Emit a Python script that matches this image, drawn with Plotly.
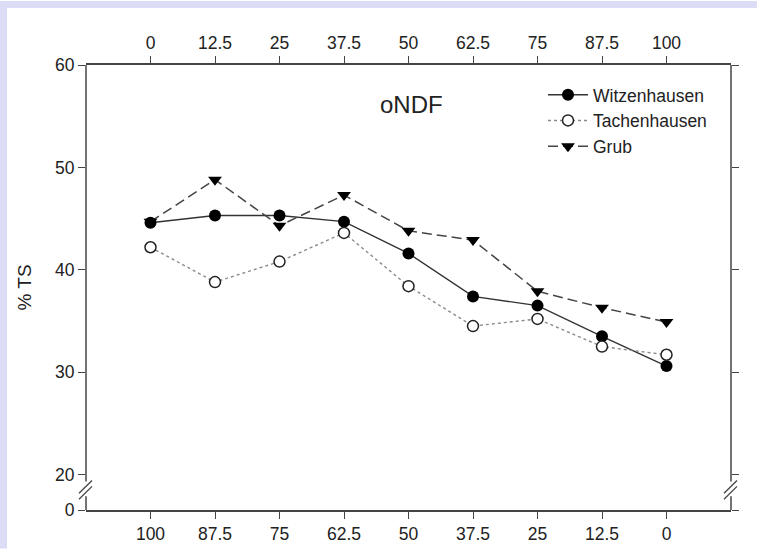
import plotly.graph_objects as go

# ---- data ----
x_top = [0, 12.5, 25, 37.5, 50, 62.5, 75, 87.5, 100]
top_labels = ["0", "12.5", "25", "37.5", "50", "62.5", "75", "87.5", "100"]
bottom_labels = ["100", "87.5", "75", "62.5", "50", "37.5", "25", "12.5", "0"]
witzenhausen = [44.6, 45.3, 45.3, 44.7, 41.6, 37.4, 36.5, 33.5, 30.6]
tachenhausen = [42.2, 38.8, 40.8, 43.6, 38.4, 34.5, 35.2, 32.5, 31.7]
grub = [44.7, 48.8, 44.3, 47.3, 43.8, 42.9, 37.9, 36.3, 34.9]
y_tick_labels = ["0", "20", "30", "40", "50", "60"]

# axis break: value 0 drawn 36px below 20 (10.4 px per unit)
Y_ZERO = 20 - 36 / 10.4
y_tick_vals = [Y_ZERO, 20, 30, 40, 50, 60]

W, H = 757, 556
L, R, T, B = 86, 731, 65, 517
pw, ph = R - L, B - T

def px_x(p):
    return (p - L) / pw

def px_yp(p):
    return (B - p) / ph

def px_y(p):
    return 20 - (p - 481) / 10.4

AX = "#444444"
FONT = "Liberation Sans, Arial, sans-serif"
FS = 17.5
LAV = "#dcdcf7"

fig = go.Figure()
fig.add_trace(go.Scatter(
    x=x_top, y=witzenhausen, name="Witzenhausen", mode="lines+markers",
    line=dict(color="#333333", width=1.4),
    marker=dict(symbol="circle", size=12, color="black")))
fig.add_trace(go.Scatter(
    x=x_top, y=tachenhausen, name="Tachenhausen", mode="lines+markers",
    line=dict(color="#8a8a8a", width=1.4, dash="dot"),
    marker=dict(symbol="circle", size=11, color="white", line=dict(color="#222222", width=1.5))))
fig.add_trace(go.Scatter(
    x=x_top, y=grub, name="Grub", mode="lines+markers",
    line=dict(color="#444444", width=1.5, dash="10px,5px"),
    marker=dict(symbol="triangle-down", size=12, color="black")))
# invisible trace to activate the top / right axes
fig.add_trace(go.Scatter(
    x=x_top, y=witzenhausen, xaxis="x2", yaxis="y2", mode="markers",
    marker=dict(opacity=0), showlegend=False, hoverinfo="skip"))

tickfont = dict(family=FONT, size=FS, color="#222222")
fig.update_layout(
    width=W, height=H,
    margin=dict(l=L, r=W - R, t=T, b=H - B, pad=0),
    paper_bgcolor="white",
    plot_bgcolor="rgba(0,0,0,0)",
    font=dict(family=FONT, size=FS, color="#222222"),
    xaxis=dict(range=[-12.5, 112.5], tickvals=x_top, ticktext=bottom_labels,
               ticks="outside", ticklen=7, tickwidth=1.3, tickcolor=AX,
               showline=True, linecolor=AX, linewidth=1.5, showgrid=False,
               zeroline=False, tickfont=tickfont, fixedrange=True),
    xaxis2=dict(range=[-12.5, 112.5], tickvals=x_top, ticktext=top_labels,
                overlaying="x", side="top", anchor="y",
                ticks="outside", ticklen=7, tickwidth=1.3, tickcolor=AX,
                showline=True, linecolor=AX, linewidth=1.5, showgrid=False,
                zeroline=False, tickfont=tickfont),
    yaxis=dict(range=[Y_ZERO, 60], tickvals=y_tick_vals, ticktext=y_tick_labels,
               ticks="outside", ticklen=7, tickwidth=1.3, tickcolor=AX,
               showline=False, showgrid=False, zeroline=False, tickfont=tickfont),
    yaxis2=dict(range=[Y_ZERO, 60], tickvals=y_tick_vals, overlaying="y", side="right",
                anchor="x", showticklabels=False,
                ticks="outside", ticklen=7, tickwidth=1.3, tickcolor=AX,
                showline=False, showgrid=False, zeroline=False),
    legend=dict(x=px_x(543), y=px_yp(77), xanchor="left", yanchor="top",
                bgcolor="rgba(0,0,0,0)", font=dict(family=FONT, size=FS, color="#222222"),
                tracegroupgap=0, itemwidth=40),
    showlegend=True,
)

shapes = [
    # lavender frame strips (top and left)
    dict(type="rect", xref="paper", yref="paper", layer="below",
         x0=px_x(0), x1=px_x(W), y0=px_yp(7), y1=px_yp(0),
         fillcolor=LAV, line=dict(width=0)),
    dict(type="rect", xref="paper", yref="paper", layer="below",
         x0=px_x(0), x1=px_x(7), y0=px_yp(H), y1=px_yp(0),
         fillcolor=LAV, line=dict(width=0)),
]
# left and right axis lines with break
for xp in (0, 1):
    shapes.append(dict(type="line", xref="paper", yref="y", x0=xp, x1=xp,
                       y0=60, y1=px_y(488), line=dict(color=AX, width=1.5)))
    shapes.append(dict(type="line", xref="paper", yref="y", x0=xp, x1=xp,
                       y0=px_y(503), y1=Y_ZERO, line=dict(color=AX, width=1.5)))
    cx = L if xp == 0 else R
    for off in (0, 6):
        shapes.append(dict(type="line", xref="paper", yref="y",
                           x0=px_x(cx - 7), x1=px_x(cx + 6),
                           y0=px_y(500 + off), y1=px_y(487 + off),
                           line=dict(color=AX, width=1.3)))
fig.update_layout(shapes=shapes)

fig.add_annotation(text="oNDF", xref="paper", yref="paper", x=px_x(411), y=px_yp(105),
                   xanchor="center", yanchor="middle",
                   showarrow=False, font=dict(family=FONT, size=24, color="#222222"))
fig.add_annotation(text="% TS", xref="paper", yref="paper", x=px_x(24), y=px_yp(291),
                   xanchor="center", yanchor="middle",
                   showarrow=False, textangle=-90, font=dict(family=FONT, size=19, color="#222222"))

fig.write_html(
    "out.html",
    config={"displayModeBar": False},
    post_script="document.body.style.margin='0';document.body.style.overflow='hidden';",
)
